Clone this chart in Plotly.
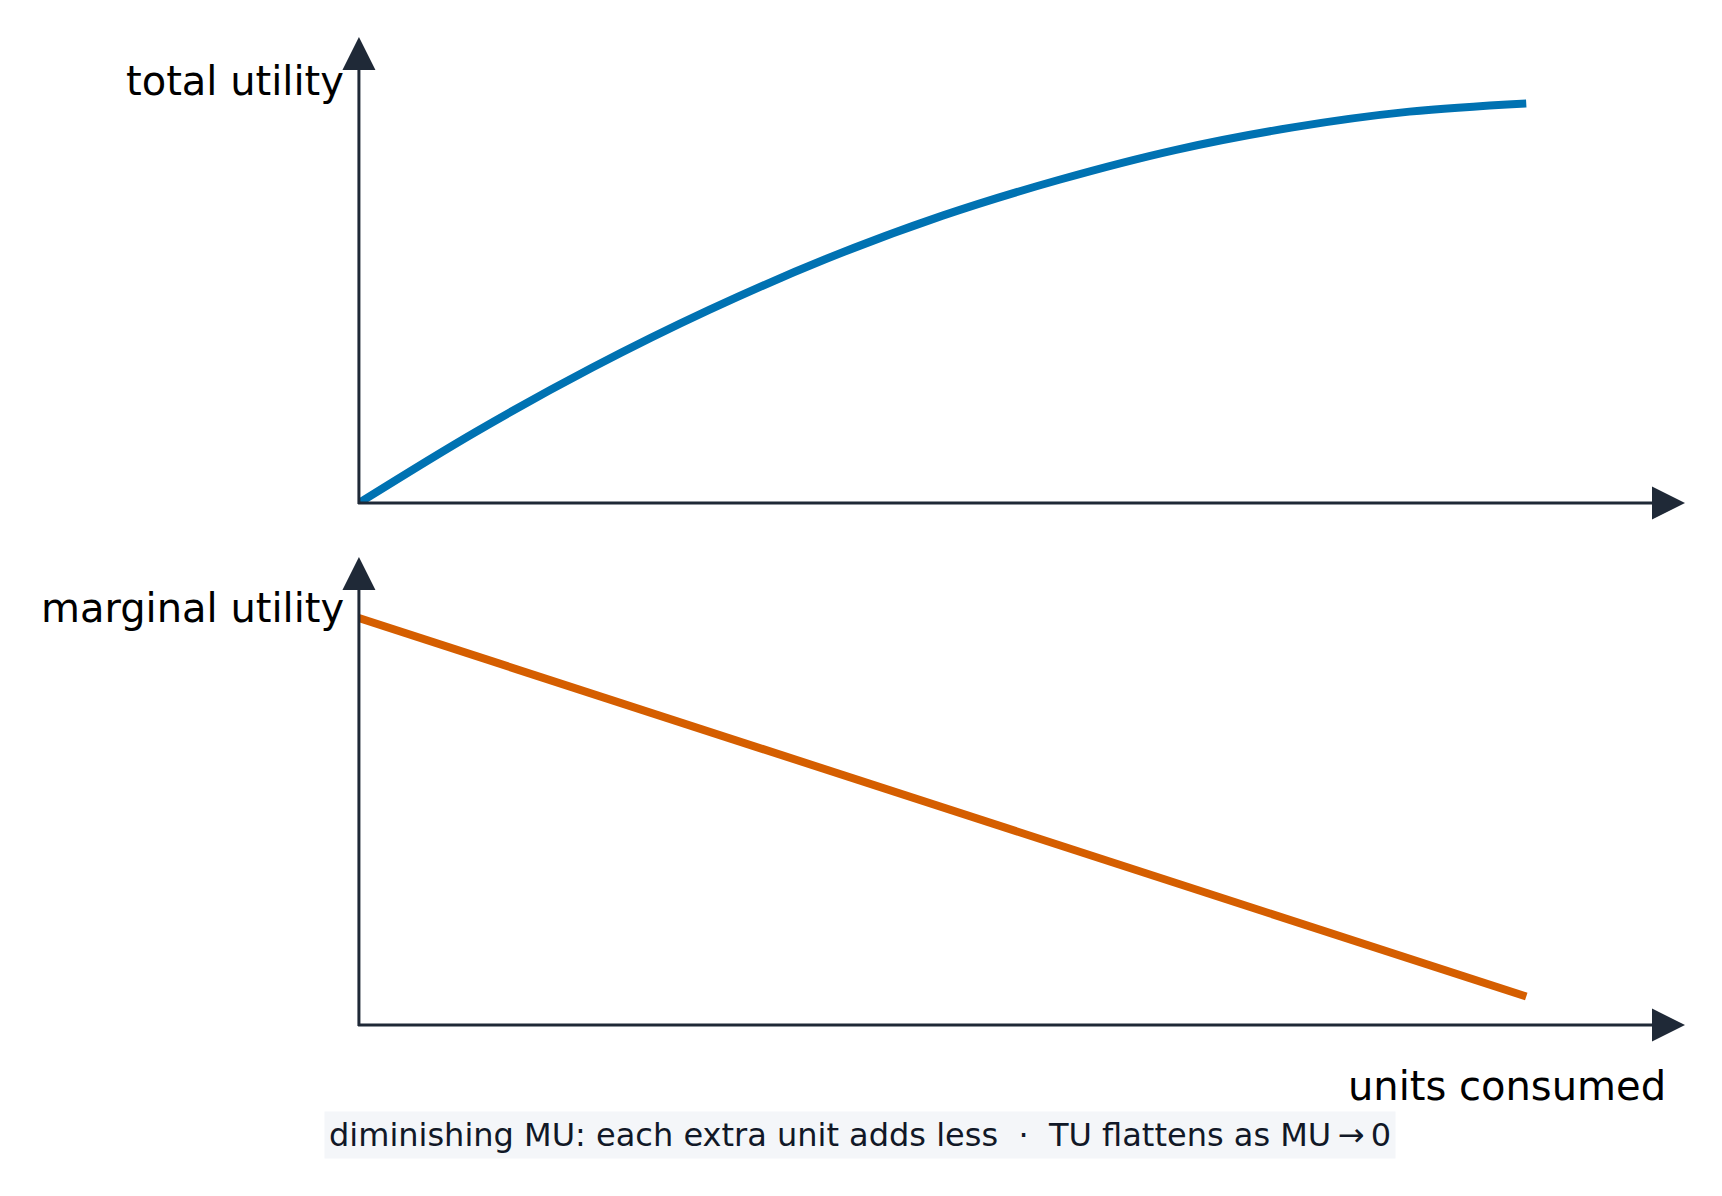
import plotly.graph_objects as go

# units consumed (x) and the two utility schedules
units = [0, 1, 2, 3, 4, 5, 6, 7, 8, 9, 10]
total_utility = [0, 9.5, 18.1, 25.8, 32.6, 38.4, 43.2, 47.2, 50.2, 52.3, 53.4]
marginal_utility = [10.0, 9.07, 8.14, 7.21, 6.28, 5.35, 4.42, 3.49, 2.56, 1.63, 0.70]

label_tu = "total utility"
label_mu = "marginal utility"
label_x = "units consumed"
footer = ("diminishing MU: each extra unit adds less\u00a0\u00a0·\u00a0\u00a0"
          "TU flattens as MU\u2009\u2192\u20090")

AXIS_COLOR = "#1f2937"
FONT = "DejaVu Sans"

fig = go.Figure()

fig.add_trace(go.Scatter(
    x=units, y=total_utility, mode="lines",
    line=dict(color="#0072B2", width=8, shape="spline"),
    xaxis="x", yaxis="y", hoverinfo="skip", showlegend=False
))
fig.add_trace(go.Scatter(
    x=units, y=marginal_utility, mode="lines",
    line=dict(color="#D55E00", width=8),
    xaxis="x2", yaxis="y2", hoverinfo="skip", showlegend=False
))

hidden = dict(showgrid=False, zeroline=False, showline=False,
              showticklabels=False, ticks="", fixedrange=True)

# axes drawn as arrows (annotation arrows in axis-domain coords)
arrows = []
for xa, ya in [("x", "y"), ("x2", "y2")]:
    for (x, y) in [(1, 0), (0, 1)]:
        arrows.append(dict(
            xref=f"{xa} domain", yref=f"{ya} domain",
            axref=f"{xa} domain", ayref=f"{ya} domain",
            x=x, y=y, ax=-0.001 if x == 1 else 0, ay=-0.003 if y == 1 else 0,
            text="", showarrow=True,
            arrowhead=2, arrowsize=2.2, arrowwidth=3,
            arrowcolor=AXIS_COLOR, standoff=0, borderpad=0
        ))

labels = [
    dict(text=label_tu, xref="paper", yref="paper", x=0.1981, y=0.9381,
         xanchor="right", yanchor="middle", showarrow=False,
         font=dict(family=FONT, size=40, color="black")),
    dict(text=label_mu, xref="paper", yref="paper", x=0.1981, y=0.4915,
         xanchor="right", yanchor="middle", showarrow=False,
         font=dict(family=FONT, size=40, color="black")),
    dict(text=label_x, xref="paper", yref="paper", x=0.9730, y=0.0864,
         xanchor="right", yanchor="middle", showarrow=False,
         font=dict(family=FONT, size=40, color="black")),
    dict(text=footer, xref="paper", yref="paper", x=0.4994, y=0.0450,
         xanchor="center", yanchor="middle", showarrow=False,
         bgcolor="#f4f6f9", borderpad=4,
         font=dict(family=FONT, size=32, color="#111827")),
]

fig.update_layout(
    width=1706, height=1180,
    margin=dict(l=0, r=0, t=0, b=0),
    paper_bgcolor="white", plot_bgcolor="white",
    xaxis=dict(domain=[0.2057, 0.9830], range=[0, 11.36], anchor="y", **hidden),
    yaxis=dict(domain=[0.5805, 0.9754], range=[0, 62.27], anchor="x", **hidden),
    xaxis2=dict(domain=[0.2057, 0.9830], range=[0, 11.36], anchor="y2", **hidden),
    yaxis2=dict(domain=[0.1381, 0.5347], range=[0, 11.50], anchor="x2", **hidden),
    annotations=arrows + labels,
    font=dict(family=FONT),
)

fig.write_html("out.html")
